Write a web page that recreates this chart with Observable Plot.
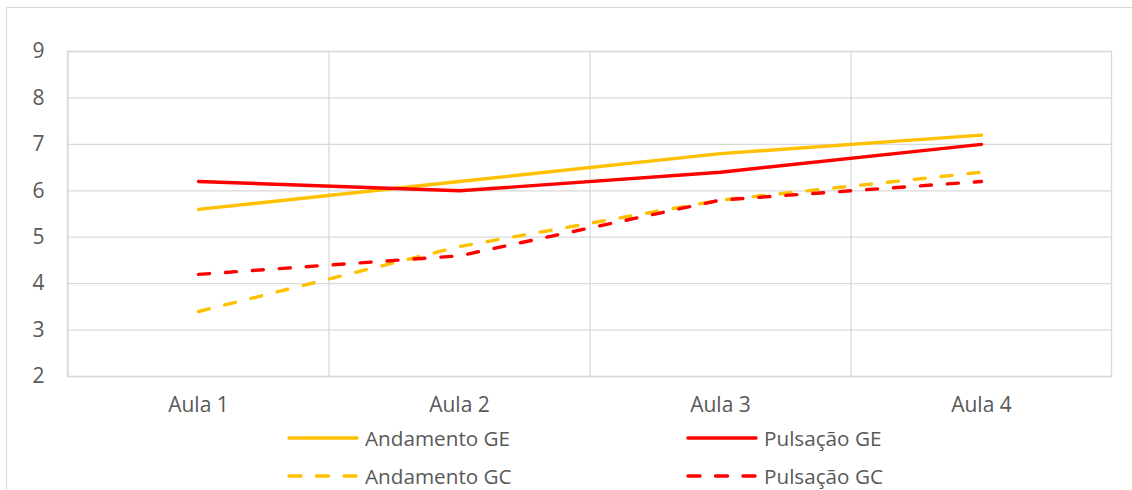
<!DOCTYPE html>
<html>
<head>
<meta charset="utf-8">
<script src="https://cdn.jsdelivr.net/npm/d3@7"></script>
<script src="https://cdn.jsdelivr.net/npm/@observablehq/plot@0.6"></script>
<style>
  body { margin: 0; background: #fff; font-family: "Open Sans", "Liberation Sans", sans-serif; }
  #wrap { position: relative; width: 1132px; height: 490px; overflow: hidden; }
  #border { position: absolute; left: 6px; top: 7px; width: 1200px; height: 600px; border: 1.5px solid #d9d9d9; box-sizing: border-box; }
  #chart { position: absolute; left: 0; top: 0; }
  .leg { position: absolute; display: flex; align-items: center; height: 24px; line-height: 24px; font-size: 20.7px; color: #595959; white-space: nowrap; }
  .leg svg { margin-right: 6px; flex: none; }
</style>
</head>
<body>
<div id="wrap">
  <div id="border"></div>
  <div id="chart"></div>
  <div id="legend"></div>
</div>
<script>
const categories = ["Aula 1", "Aula 2", "Aula 3", "Aula 4"];
const andamentoGE = [5.6, 6.2, 6.8, 7.2];
const pulsacaoGE = [6.2, 6.0, 6.4, 7.0];
const andamentoGC = [3.4, 4.8, 5.8, 6.4];
const pulsacaoGC = [4.2, 4.6, 5.8, 6.2];
const yTicks = [2, 3, 4, 5, 6, 7, 8, 9];

const seriesDefs = [
  { name: "Andamento GE", values: andamentoGE, color: "#FFC000", dash: null },
  { name: "Pulsação GE", values: pulsacaoGE, color: "#FF0000", dash: null },
  { name: "Andamento GC", values: andamentoGC, color: "#FFC000", dash: "11,16" },
  { name: "Pulsação GC", values: pulsacaoGC, color: "#FF0000", dash: "11,16" }
];

const W = 1132, H = 490;
const mL = 67, mR = 21, mT = 51, mB = 114;
const step = (W - mL - mR) / categories.length;

const marks = [
  Plot.gridY(yTicks, { stroke: "#d9d9d9", strokeOpacity: 1, strokeWidth: 1.3 }),
  Plot.ruleX(categories, { dx: -step / 2, stroke: "#d9d9d9", strokeWidth: 1.3 }),
  Plot.frame({ stroke: "#d9d9d9", strokeWidth: 1.3 }),
  Plot.axisY(yTicks, { tickSize: 0, tickPadding: 23, fontSize: 21, fill: "#595959" }),
  Plot.axisX(categories, { tickSize: 0, tickPadding: 21, fontSize: 21, fill: "#595959" })
];
for (const s of seriesDefs) {
  const data = categories.map((c, i) => ({ cat: c, v: s.values[i] }));
  marks.push(Plot.line(data, {
    x: "cat", y: "v", stroke: s.color, strokeWidth: 3.4,
    strokeDasharray: s.dash || undefined, strokeLinecap: "round", strokeLinejoin: "round"
  }));
}

const chart = Plot.plot({
  width: W, height: H,
  marginLeft: mL, marginRight: mR, marginTop: mT, marginBottom: mB,
  style: { fontFamily: "'Open Sans', 'Liberation Sans', sans-serif", background: "transparent", overflow: "visible" },
  x: { type: "point", domain: categories, padding: 0.5, label: null },
  y: { domain: [2, 9], label: null },
  marks
});
document.getElementById("chart").appendChild(chart);

// Legend (HTML, below plot area)
const legendPos = [
  { left: 287, top: 426 }, { left: 686, top: 426 },
  { left: 287, top: 464 }, { left: 686, top: 464 }
];
const legend = document.getElementById("legend");
seriesDefs.forEach((s, i) => {
  const d = document.createElement("div");
  d.className = "leg";
  d.style.left = legendPos[i].left + "px";
  d.style.top = legendPos[i].top + "px";
  const sw = 72;
  d.innerHTML = `<svg width="${sw}" height="24"><line x1="2" y1="12" x2="${sw - 2}" y2="12" stroke="${s.color}" stroke-width="3.4" stroke-linecap="round" ${s.dash ? 'stroke-dasharray="12,15.5"' : ''}/></svg><span>${s.name}</span>`;
  legend.appendChild(d);
});
</script>
</body>
</html>
